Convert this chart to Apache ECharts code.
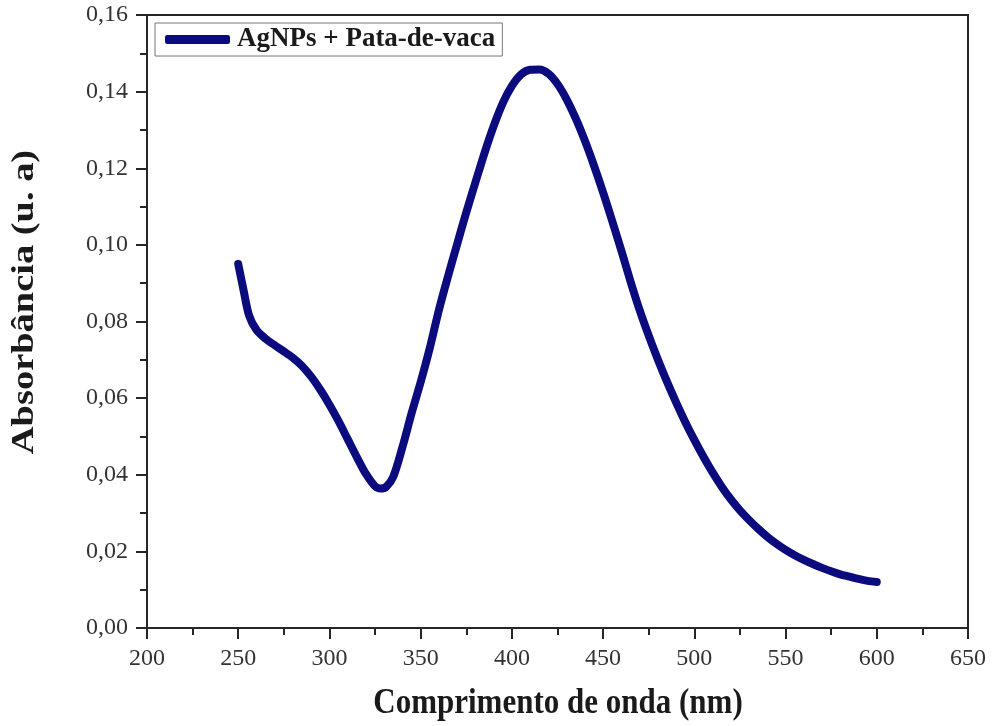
<!DOCTYPE html>
<html>
<head>
<meta charset="utf-8">
<script src="https://cdn.jsdelivr.net/npm/echarts@6/dist/echarts.min.js"></script>
<style>
  html, body { margin: 0; padding: 0; background: #fff; }
  #chart01 { width: 992px; height: 726px; }
</style>
</head>
<body>
<div id="chart01"></div>
<script>
// comprimento de onda (nm) e absorbância
var comprimento = [250, 253, 256, 260, 265, 270, 275, 280, 285, 290, 295, 300, 305, 310, 315, 320, 325, 328, 331, 335,
    340, 345, 350, 355, 360, 365, 370, 375, 380, 385, 390, 395, 400, 405, 410, 415, 420, 425, 430, 435,
    440, 445, 450, 455, 460, 465, 470, 475, 480, 485, 490, 495, 500, 505, 510, 515, 520, 525, 530, 535,
    540, 545, 550, 555, 560, 565, 570, 575, 580, 585, 590, 595, 600];
var absorbancia = [0.0950, 0.0880, 0.0815, 0.0778, 0.0755, 0.0738, 0.0722, 0.0705, 0.0684, 0.0656, 0.0622, 0.0583, 0.0540, 0.0493, 0.0446, 0.0402, 0.0370, 0.0364, 0.0368, 0.0395,
    0.0472, 0.0560, 0.0642, 0.0731, 0.0830, 0.0918, 0.1002, 0.1085, 0.1163, 0.1240, 0.1310, 0.1370, 0.1415, 0.1445, 0.1457, 0.1458, 0.1447, 0.1420, 0.1380, 0.1330,
    0.1272, 0.1207, 0.1137, 0.1062, 0.0985, 0.0905, 0.0830, 0.0763, 0.0701, 0.0643, 0.0589, 0.0538, 0.0491, 0.0447, 0.0406, 0.0369, 0.0336, 0.0307, 0.0282, 0.0259,
    0.0238, 0.0220, 0.0204, 0.0190, 0.0178, 0.0167, 0.0157, 0.0148, 0.0140, 0.0134, 0.0128, 0.0123, 0.0120];
var nomeSerie = 'AgNPs + Pata-de-vaca';
var tituloX = 'Comprimento de onda (nm)';
var tituloY = 'Absorbância (u. a)';

var fonte = '"Liberation Serif", "DejaVu Serif", serif';
var corEixo = '#262626';
var corLinha = '#0b0b7e';

var dados = [];
comprimento.forEach(function (x, i) {
    dados.push([x, absorbancia[i]]);
});

var cha01 = echarts.init(document.getElementById('chart01'));
var opt01 = {
    animation: false,
    grid: {
        left: 147, right: 24, top: 15, bottom: 98,
        show: true,
        borderColor: corEixo,
        borderWidth: 2
    },
    legend: {
        left: 155, top: 23,
        data: [nomeSerie],
        icon: 'roundRect',
        itemWidth: 65,
        itemHeight: 9,
        itemGap: 7,
        padding: [3, 7, 3, 10],
        borderColor: '#777',
        borderWidth: 1,
        textStyle: { fontFamily: fonte, fontWeight: 'bold', fontSize: 27, color: '#1a1a1a', padding: [0, 0, 0, 2] }
    },
    // títulos dos eixos como texto (esticados como na figura original)
    graphic: [
        {
            type: 'text',
            x: 558, y: 704,
            scaleY: 1.15,
            style: {
                text: tituloX, fontFamily: fonte, fontWeight: 'bold', fontSize: 31,
                fill: '#1a1a1a', align: 'center', verticalAlign: 'middle'
            }
        },
        {
            type: 'text',
            x: 25, y: 302,
            rotation: Math.PI / 2,
            scaleX: 1.24,
            style: {
                text: tituloY, fontFamily: fonte, fontWeight: 'bold', fontSize: 31,
                fill: '#1a1a1a', align: 'center', verticalAlign: 'middle'
            }
        }
    ],
    xAxis: {
        type: 'value',
        min: 200, max: 650, interval: 50,
        axisLine: { lineStyle: { color: corEixo, width: 2 } },
        axisTick: { inside: false, length: 11, lineStyle: { color: corEixo, width: 2 } },
        minorTick: { show: true, splitNumber: 2, length: 7, lineStyle: { color: corEixo, width: 2 } },
        axisLabel: { margin: 19, fontFamily: fonte, fontSize: 24, color: '#333' },
        splitLine: { show: false }
    },
    yAxis: {
        type: 'value',
        min: 0, max: 0.16, interval: 0.02,
        axisLine: { lineStyle: { color: corEixo, width: 2 } },
        axisTick: { inside: false, length: 11, lineStyle: { color: corEixo, width: 2 } },
        minorTick: { show: true, splitNumber: 2, length: 7, lineStyle: { color: corEixo, width: 2 } },
        axisLabel: {
            margin: 19, fontFamily: fonte, fontSize: 24, color: '#333',
            formatter: function (v) { return v.toFixed(2).replace('.', ','); }
        },
        splitLine: { show: false }
    },
    series: [
        {
            name: nomeSerie,
            type: 'line',
            data: dados,
            showSymbol: false,
            symbol: 'none',
            smooth: 0.3,
            color: corLinha,
            lineStyle: { color: corLinha, width: 8, cap: 'round', join: 'round' }
        }
    ]
};
cha01.setOption(opt01);
</script>
</body>
</html>
